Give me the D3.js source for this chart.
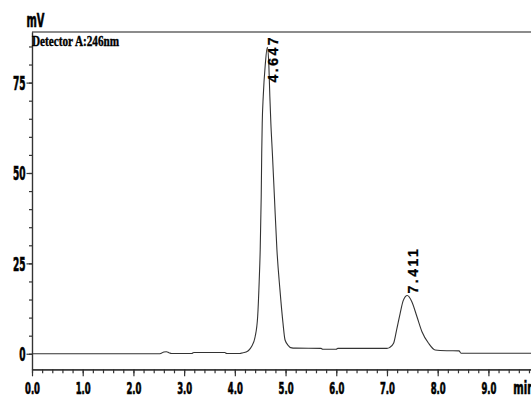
<!DOCTYPE html>
<html>
<head>
<meta charset="utf-8">
<script src="https://cdn.jsdelivr.net/npm/d3@7"></script>
<style>
  body { margin: 0; background: #fff; }
  svg { display: block; }
</style>
</head>
<body>
<svg width="531" height="397"></svg>
<script>
// retention time (min) / detector signal (mV)
const time = [0, 2.50, 2.55, 2.60, 2.65, 2.70, 2.75, 3.15, 3.19, 3.80, 3.84, 4.10, 4.16, 4.22, 4.27, 4.33,
  4.40, 4.45, 4.48, 4.50, 4.52, 4.53, 4.54, 4.56, 4.60, 4.64, 4.67, 4.69, 4.71, 4.74, 4.78, 4.83, 4.89,
  4.95, 4.99, 5.06, 5.10, 5.20, 5.70, 5.73, 6.00, 6.03, 7.00, 7.05, 7.13, 7.19, 7.26, 7.32, 7.40, 7.49,
  7.59, 7.69, 7.82, 7.95, 8.18, 8.42, 8.46, 9.84];
const signal = [0, 0, 0.15, 0.5, 0.55, 0.3, 0.05, 0.05, 0.35, 0.35, 0.05, 0.05, 0.3, 0.5, 0.9, 2.0,
  4.7, 10.3, 20.0, 28.7, 43.5, 55.5, 63.8, 71.2, 80.0, 84.8, 80.0, 71.2, 63.8, 55.5, 43.5, 28.7, 17.6,
  8.4, 3.8, 2.2, 1.7, 1.55, 1.5, 1.25, 1.25, 1.5, 1.5, 1.7, 2.9, 6.6, 11.2, 14.7, 16.1, 14.4,
  10.3, 6.1, 2.9, 1.05, 0.85, 0.8, 0.15, 0.15];

const peakTimes = [4.647, 7.411];
const peakHeights = [84.8, 16.1];
const peakLabels = ["4.647", "7.411"];

const xTickValues = [0, 1, 2, 3, 4, 5, 6, 7, 8, 9];
const xTickLabels = ["0.0", "1.0", "2.0", "3.0", "4.0", "5.0", "6.0", "7.0", "8.0", "9.0"];
const yTickValues = [0, 25, 50, 75];
const yTickLabels = ["0", "25", "50", "75"];

const svg = d3.select("svg"),
  width = 531,
  height = 397;
const plotLeft = 32, plotTop = 32, plotBottom = 369.3;
const narrow = "'Liberation Sans Narrow', 'DejaVu Sans Condensed', 'Liberation Sans', sans-serif";

const x = d3.scaleLinear().domain([0, 9.84]).range([plotLeft, width]);
const y = d3.scaleLinear().domain([-4.3, 89]).range([plotBottom, plotTop]);

// frame line on top
svg.append("line")
  .attr("x1", plotLeft).attr("x2", width)
  .attr("y1", plotTop).attr("y2", plotTop)
  .style("stroke", "#666")
  .style("stroke-width", 1.5);

// x axis: minor then major ticks
svg.append("g")
  .attr("transform", `translate(0,${plotBottom})`)
  .call(d3.axisBottom(x).tickValues(d3.range(0, 9.81, 0.2)).tickSize(4).tickSizeOuter(0).tickFormat(""));
const xAxis = svg.append("g")
  .attr("transform", `translate(0,${plotBottom})`)
  .call(d3.axisBottom(x).tickValues(xTickValues).tickSize(7).tickSizeOuter(0)
    .tickFormat((d, i) => xTickLabels[i]));
xAxis.selectAll("text")
  .attr("dy", null)
  .attr("y", 394 - plotBottom)
  .attr("textLength", 15)
  .attr("lengthAdjust", "spacingAndGlyphs")
  .style("font-family", narrow)
  .style("font-weight", "bold")
  .style("font-size", "15px")
  .style("fill", "#000")
  .style("stroke", "#000")
  .style("stroke-width", 0.6);

// y axis
svg.append("g")
  .attr("transform", `translate(${plotLeft},0)`)
  .call(d3.axisLeft(y).tickValues(d3.range(0, 89, 5)).tickSize(3).tickSizeOuter(0).tickFormat(""));
const yAxis = svg.append("g")
  .attr("transform", `translate(${plotLeft},0)`)
  .call(d3.axisLeft(y).tickValues(yTickValues).tickSize(5.5).tickSizeOuter(0)
    .tickFormat((d, i) => yTickLabels[i]));
yAxis.selectAll("text")
  .attr("dy", null)
  .attr("x", -6.5)
  .attr("y", 6.7)
  .attr("textLength", (d, i) => yTickLabels[i].length * 6.3)
  .attr("lengthAdjust", "spacingAndGlyphs")
  .style("font-family", narrow)
  .style("font-weight", "bold")
  .style("font-size", "19px")
  .style("fill", "#000")
  .style("stroke", "#000")
  .style("stroke-width", 0.6);

svg.selectAll(".domain, .tick line")
  .style("stroke", "#333")
  .style("stroke-width", 1.2);

// units
svg.append("text")
  .attr("x", 26.5).attr("y", 27)
  .attr("textLength", 18).attr("lengthAdjust", "spacingAndGlyphs")
  .style("font-family", narrow).style("font-weight", "bold").style("font-size", "19px")
  .style("stroke", "#000").style("stroke-width", 0.6)
  .text("mV");
svg.append("text")
  .attr("x", 513.3).attr("y", 394)
  .attr("textLength", 21).attr("lengthAdjust", "spacingAndGlyphs")
  .style("font-family", narrow).style("font-weight", "bold").style("font-size", "17px")
  .style("stroke", "#000").style("stroke-width", 0.6)
  .text("min");

svg.append("text")
  .attr("x", 32).attr("y", 46)
  .attr("textLength", 87).attr("lengthAdjust", "spacingAndGlyphs")
  .style("font-family", "'Liberation Serif', 'Times New Roman', serif")
  .style("font-weight", "bold").style("font-size", "14px")
  .style("stroke", "#000").style("stroke-width", 0.4)
  .text("Detector A:246nm");

// chromatogram trace
const pts = time.map((t, i) => [t, signal[i]]);
svg.append("path")
  .datum(pts)
  .attr("d", d3.line().x((d) => x(d[0])).y((d) => y(d[1])).curve(d3.curveMonotoneX))
  .style("fill", "none")
  .style("stroke", "#333")
  .style("stroke-width", 1.1);

// retention time labels, kept inside the frame
svg.selectAll(".peak")
  .data(peakLabels)
  .join("text")
  .attr("class", "peak")
  .style("font-family", "'Liberation Sans', Arial, sans-serif")
  .style("font-weight", "bold")
  .style("font-size", "14px")
  .style("letter-spacing", "2.5px")
  .style("stroke", "#000")
  .style("stroke-width", 0.3)
  .text((d) => d)
  .attr("transform", function (d, i) {
    const len = this.getComputedTextLength();
    let ys = y(peakHeights[i]) - 2;
    if (ys - len < plotTop + 3) ys = plotTop + 3 + len;
    return `translate(${x(peakTimes[i]) + 10.5},${ys}) rotate(-90)`;
  });
</script>
</body>
</html>
